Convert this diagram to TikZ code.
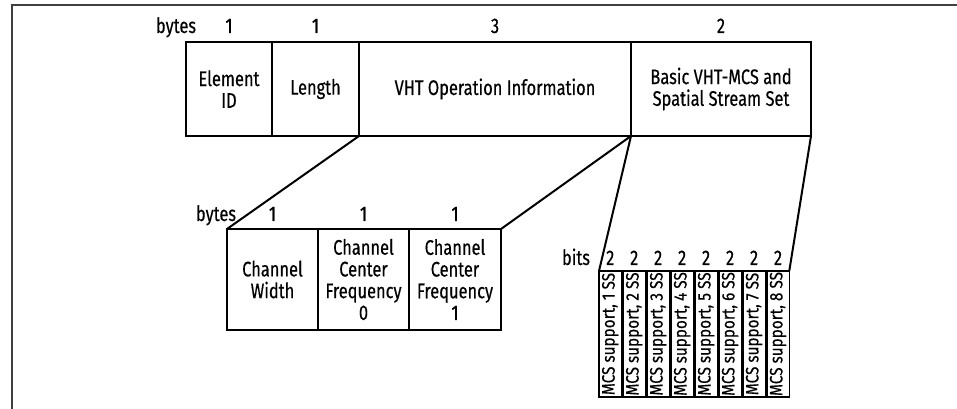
\documentclass[tikz,border=0pt]{standalone}
\usepackage{fontspec}
\setmainfont{Fira Sans}[FakeStretch=0.78, FakeBold=0.4]
\newfontfamily\bitfam{Fira Sans}[FakeStretch=0.85, FakeBold=0.3]
\usetikzlibrary{positioning}
\def\px{0.75pt}
\newcommand\fieldfont{\fontsize{15.8}{16.3}\selectfont}
\newcommand\bitfont{\bitfam\fontsize{13.5}{14}\selectfont}
\begin{document}
\begin{tikzpicture}[x=0.75pt, y=-0.75pt, line join=miter,
  field/.style={draw, line width=1.5pt, fill=white, inner sep=0pt, outer sep=0pt, align=center, font=\fieldfont, minimum height=94*\px},
  sub/.style={field, minimum height=101*\px},
  bitbox/.style={draw, line width=1.1pt, fill=white, inner sep=0pt, outer sep=0pt, minimum width=22.5*\px, minimum height=126*\px, font=\bitfont},
  size/.style={anchor=base, inner sep=0pt, font=\fieldfont},
  link/.style={line width=1.5pt},
  frame/.style={draw=black!75, line width=1.1pt}]
 \useasboundingbox (0,0) rectangle (957,409);
 \draw[frame] (957,5) -- (12,5) -- (12,409);
 \node[field, minimum width=86*\px, anchor=north west] (eid) at (186,42) {Element\\ID};
 \node[field, minimum width=87*\px, right=0pt of eid] (len) {Length};
 \node[field, minimum width=272*\px, right=0pt of len] (vht) {VHT Operation Information};
 \node[field, minimum width=180*\px, right=0pt of vht] (basic) {Basic VHT-MCS and\\Spatial Stream Set};
 \node[size] (bytes) at (176,33) {bytes};
 \foreach \f/\n in {eid/1,len/1,vht/3,basic/2}
  \node[size] (n-\f) at ([yshift=9*\px]\f.north) {\n};
 \node[sub, minimum width=91*\px, anchor=north west] (cw) at (227,229) {Channel\\Width};
 \node[sub, minimum width=91*\px, right=0pt of cw] (ccf0) {Channel\\Center\\Frequency\\0};
 \node[sub, minimum width=92*\px, right=0pt of ccf0] (ccf1) {Channel\\Center\\Frequency\\1};
 \node[size] (bytes2) at (216,221) {bytes};
 \foreach \f in {cw,ccf0,ccf1}
  \node[size] (n-\f) at ([yshift=8*\px]\f.north) {1};
 \node[bitbox, anchor=north west] (m1) at (599,271) {\rotatebox{90}{MCS support, 1 SS}};
 \foreach \i in {2,...,8} {
  \pgfmathtruncatemacro\j{\i-1}
  \node[bitbox, right=1.1pt of m\j] (m\i) {\rotatebox{90}{MCS support, \i\ SS}};
  \draw[line width=0.5pt] (m\j.east) -- (m\i.west);
 }
 \node[size] (bits) at (576,265) {bits};
 \foreach \i in {1,...,8}
  \node[size] (b\i) at ([yshift=6*\px]m\i.north) {2};
 \draw[link] (len.south east) -- (cw.north west);
 \draw[link] (vht.south east) -- (ccf1.north east);
 \draw[link] (basic.south west) -- (m1.north west);
 \draw[link] (basic.south east) -- (m8.north east);
\end{tikzpicture}
\end{document}
